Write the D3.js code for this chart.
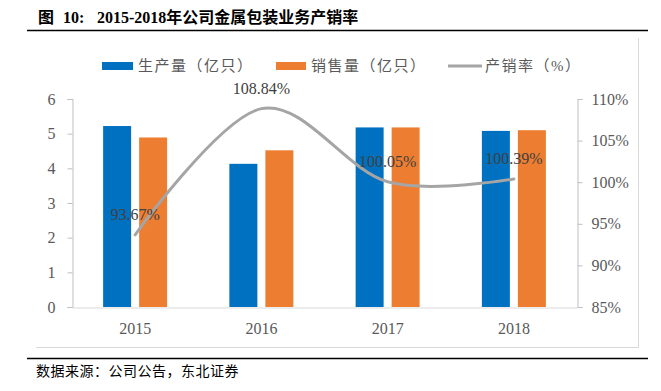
<!DOCTYPE html>
<html>
<head>
<meta charset="utf-8">
<script src="https://cdn.jsdelivr.net/npm/d3@7"></script>
<style>
  body { margin: 0; background: #fff; }
  svg { display: block; }
  text { font-family: "Liberation Serif", "Noto Sans CJK SC", serif; }
</style>
</head>
<body>
<div id="chart"></div>
<script>
// data
const years = ['2015', '2016', '2017', '2018'];
const output = [5.22, 4.13, 5.18, 5.08];   // 生产量（亿只）
const sales = [4.89, 4.52, 5.18, 5.10];    // 销售量（亿只）
const rate = [93.67, 108.84, 100.05, 100.39]; // 产销率（%）
const leftTicks = [0, 1, 2, 3, 4, 5, 6];
const rightTicks = [85, 90, 95, 100, 105, 110];

const width = 661;
const height = 391;
const blue = '#0070c0';
const orange = '#ed7d31';
const grey = '#a5a5a5';
const textCol = '#595959';

const svg = d3.select('#chart')
              .append('svg')
              .attr('width', width)
              .attr('height', height);

// title
const title = svg.append('text')
                 .attr('y', 23)
                 .attr('font-size', 16)
                 .attr('font-weight', 'bold')
                 .attr('fill', '#000');
title.append('tspan').attr('x', 38).text('图');
title.append('tspan').attr('x', 63).text('10:');
title.append('tspan').attr('x', 97).text('2015-2018年公司金属包装业务产销率');

svg.append('line')
   .attr('x1', 27).attr('x2', 648)
   .attr('y1', 30.5).attr('y2', 30.5)
   .attr('stroke', '#000').attr('stroke-width', 1.5);

// chart frame (only right and bottom edges show)
svg.append('path')
   .attr('d', 'M638.5,38V347.5H36')
   .attr('fill', 'none')
   .attr('stroke', '#d9d9d9');

// scales
const x0 = d3.scaleBand().domain(years).range([72, 577]);
const y = d3.scaleLinear().domain([0, 6]).range([307, 99]);
const y2 = d3.scaleLinear().domain([85, 110]).range([307, 99]);

// left axis
const leftAxis = svg.append('g')
                    .attr('transform', 'translate(72.5,0)')
                    .call(d3.axisLeft(y).tickValues(leftTicks).tickSize(5).tickPadding(12)
                            .tickFormat(d3.format('d')));
leftAxis.select('.domain').attr('stroke', '#bfbfbf');
leftAxis.selectAll('.tick line').attr('stroke', '#bfbfbf');
leftAxis.selectAll('.tick text')
        .attr('font-size', 16)
        .attr('font-family', '"Liberation Serif", serif')
        .attr('fill', textCol);

// right axis
const rightAxis = svg.append('g')
                     .attr('transform', 'translate(577.5,0)')
                     .call(d3.axisRight(y2).tickValues(rightTicks).tickSize(5).tickPadding(9)
                             .tickFormat(d => d + '%'));
rightAxis.select('.domain').attr('stroke', '#bfbfbf');
rightAxis.selectAll('.tick line').attr('stroke', '#bfbfbf');
rightAxis.selectAll('.tick text')
         .attr('font-size', 16)
         .attr('font-family', '"Liberation Serif", serif')
         .attr('fill', textCol);

// bottom axis
const xAxis = svg.append('g')
                 .attr('transform', 'translate(0,307.5)')
                 .call(d3.axisBottom(x0).tickSize(0).tickPadding(15));
xAxis.select('.domain').attr('stroke', '#d9d9d9');
xAxis.selectAll('.tick text')
     .attr('font-size', 16)
     .attr('font-family', '"Liberation Serif", serif')
     .attr('fill', textCol);

// bars
const barW = 28;
const gap = 8;
const groups = svg.append('g')
                  .selectAll('g')
                  .data(years)
                  .enter()
                  .append('g')
                  .attr('transform', d => 'translate(' + (x0(d) + x0.bandwidth() / 2) + ',0)');

groups.append('rect')
      .attr('x', -gap / 2 - barW)
      .attr('y', (d, i) => y(output[i]))
      .attr('width', barW)
      .attr('height', (d, i) => y(0) - y(output[i]))
      .attr('fill', blue);

groups.append('rect')
      .attr('x', gap / 2)
      .attr('y', (d, i) => y(sales[i]))
      .attr('width', barW)
      .attr('height', (d, i) => y(0) - y(sales[i]))
      .attr('fill', orange);

// rate line
const cx = d => x0(d) + x0.bandwidth() / 2;
const line = d3.line()
               .x((d, i) => cx(years[i]))
               .y(d => y2(d))
               .curve(d3.curveCardinal.tension(0));

svg.append('path')
   .datum(rate)
   .attr('d', line)
   .attr('fill', 'none')
   .attr('stroke', grey)
   .attr('stroke-width', 3)
   .attr('stroke-linecap', 'round');

svg.append('g')
   .selectAll('text')
   .data(rate)
   .enter()
   .append('text')
   .attr('x', (d, i) => cx(years[i]))
   .attr('y', d => y2(d) - 15)
   .attr('text-anchor', 'middle')
   .attr('font-size', 16)
   .attr('fill', '#404040')
   .text(d => d.toFixed(2) + '%');

// legend
const legend = svg.append('g')
                  .attr('font-size', 15)
                  .attr('letter-spacing', 1.5)
                  .attr('fill', textCol);
legend.append('rect').attr('x', 102).attr('y', 62).attr('width', 31).attr('height', 8).attr('fill', blue);
legend.append('text').attr('x', 138).attr('y', 71).text('生产量（亿只）');
legend.append('rect').attr('x', 276).attr('y', 62).attr('width', 30).attr('height', 8).attr('fill', orange);
legend.append('text').attr('x', 311).attr('y', 71).text('销售量（亿只）');
legend.append('line').attr('x1', 448).attr('x2', 482).attr('y1', 66).attr('y2', 66)
      .attr('stroke', grey).attr('stroke-width', 3);
legend.append('text').attr('x', 485).attr('y', 71).text('产销率（%）');

// footer
svg.append('line')
   .attr('x1', 27).attr('x2', 648)
   .attr('y1', 358.5).attr('y2', 358.5)
   .attr('stroke', '#000').attr('stroke-width', 1.5);

svg.append('text')
   .attr('x', 36)
   .attr('y', 376)
   .attr('font-size', 14)
   .attr('letter-spacing', 0.5)
   .attr('fill', '#000')
   .text('数据来源：公司公告，东北证券');
</script>
</body>
</html>
